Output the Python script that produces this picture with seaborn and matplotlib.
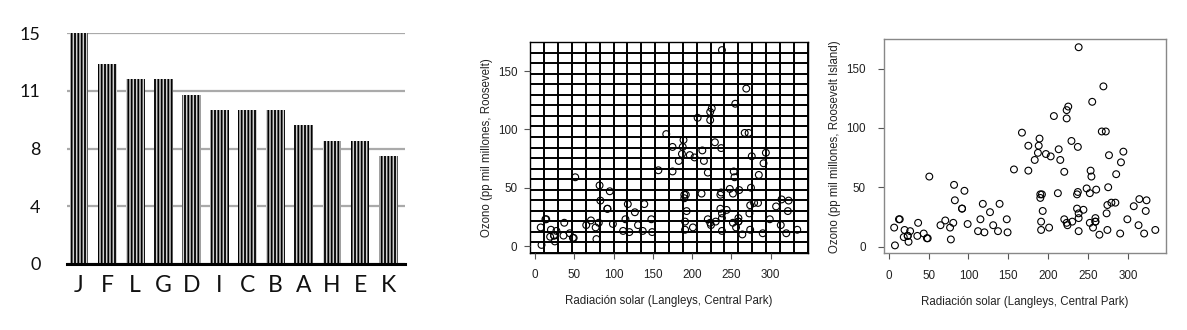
import numpy as np
import pandas as pd
import matplotlib
matplotlib.use("Agg")
import matplotlib.pyplot as plt
from matplotlib.ticker import FuncFormatter, FixedLocator
import seaborn as sns

# Bar panel data
categories = ["J", "F", "L", "G", "D", "I", "C", "B", "A", "H", "E", "K"]
bar_values = [15, 13, 12, 12, 11, 10, 10, 10, 9, 8, 8, 7]

# Solar radiation (Langleys, Central Park) and ozone (ppb, Roosevelt Island)
solar = [190, 118, 149, 313, 299, 99, 19, 256, 290, 274, 65, 334, 307, 78, 322,
         44, 8, 320, 25, 92, 13, 252, 223, 279, 127, 291, 323, 148, 191, 284,
         37, 120, 137, 269, 248, 236, 175, 314, 276, 267, 272, 175, 264, 48,
         260, 274, 285, 187, 220, 7, 294, 223, 81, 82, 213, 275, 253, 254, 83,
         24, 77, 255, 229, 207, 192, 273, 157, 71, 51, 115, 244, 190, 259, 36,
         212, 238, 215, 203, 225, 237, 188, 167, 197, 183, 189, 95, 92, 252,
         220, 230, 259, 236, 259, 238, 24, 112, 237, 224, 27, 238, 201, 238,
         14, 139, 49, 20, 193, 191, 131, 223]
ozone = [41, 36, 12, 18, 23, 19, 8, 16, 11, 14, 18, 14, 34, 6, 30,
         11, 1, 11, 4, 32, 23, 45, 115, 37, 29, 71, 39, 23, 21, 37,
         20, 12, 13, 135, 49, 32, 64, 40, 77, 97, 97, 85, 10, 7,
         48, 35, 61, 79, 63, 16, 80, 108, 20, 52, 82, 50, 64, 59, 39,
         9, 16, 122, 89, 110, 44, 28, 65, 22, 59, 23, 31, 44, 21, 9,
         45, 168, 73, 76, 118, 84, 85, 96, 78, 73, 91, 47, 32, 20,
         23, 21, 24, 44, 21, 28, 9, 13, 46, 18, 13, 24, 16, 13,
         23, 36, 7, 14, 30, 14, 18, 20]

x_ticks = [0, 50, 100, 150, 200, 250, 300]
y_ticks = [0, 50, 100, 150]
x_title = "Radiación solar (Langleys, Central Park)"
y_title_mid = "Ozono (pp mil millones, Roosevelt)"
y_title_right = "Ozono (pp mil millones, Roosevelt Island)"

sns.set_theme(style="white")
plt.rcParams["font.family"] = ["Liberation Sans", "DejaVu Sans"]
plt.rcParams["hatch.linewidth"] = 1.3

fig = plt.figure(figsize=(11.87, 3.30), dpi=100)

# ---------------- Bar panel ----------------
axb = fig.add_axes([0.0564, 0.2, 0.2848, 0.7])
bars_df = pd.DataFrame({"cat": categories, "val": bar_values})
sns.barplot(data=bars_df, x="cat", y="val", ax=axb, color="#d2d2d2",
            width=0.67, edgecolor="black", linewidth=0, hatch="|||||",
            saturation=1, zorder=3)
axb.set_xlim(-0.43, 11.6)
axb.set_ylim(0, 15)
axb.yaxis.set_major_locator(FixedLocator(np.linspace(0, 15, 5)))
axb.yaxis.set_major_formatter(FuncFormatter(lambda v, p: f"{v:.0f}"))
axb.grid(axis="y", color="#aaaaaa", linewidth=1.6)
axb.grid(axis="x", visible=False)
axb.set_axisbelow(True)
for s in ["left", "right", "top"]:
    axb.spines[s].set_visible(False)
axb.spines["bottom"].set_color("black")
axb.spines["bottom"].set_linewidth(2.2)
axb.spines["bottom"].set_zorder(5)
axb.tick_params(axis="y", length=0, pad=19, labelsize=13, labelcolor="#111111")
axb.tick_params(axis="x", length=0, pad=8, labelsize=16.5, labelcolor="#111111")
for lab in axb.get_xticklabels() + axb.get_yticklabels():
    lab.set_fontfamily(["Lato", "DejaVu Sans"])
axb.set_xlabel("")
axb.set_ylabel("")


def scatter_panel(ax, spine_color, grid):
    sns.scatterplot(x=solar, y=ozone, ax=ax, marker="o", s=24,
                    facecolor="none", edgecolor="black", linewidth=0.8)
    ax.set_xlim(-6.08, 347.08)
    ax.set_ylim(-5.68, 174.68)
    ax.set_xticks(x_ticks)
    ax.set_yticks(y_ticks)
    ax.set_xticklabels([str(t) for t in x_ticks])
    ax.set_yticklabels([str(t) for t in y_ticks])
    ax.tick_params(axis="both", direction="out", length=4, width=0.8,
                   color="#555555", labelsize=8.4, labelcolor="#222222")
    ax.tick_params(axis="x", pad=8, bottom=True)
    ax.tick_params(axis="y", left=True)
    for s in ax.spines.values():
        s.set_color(spine_color)
        s.set_linewidth(1.0)
        s.set_visible(True)
    ax.grid(False)
    if grid:
        ax.xaxis.set_minor_locator(FixedLocator(np.linspace(-6.08, 347.08, 21)))
        ax.yaxis.set_minor_locator(FixedLocator(np.linspace(-5.68, 174.68, 21)))
        ax.tick_params(which="minor", length=0)
        ax.grid(which="minor", color="black", linewidth=1.4)
        ax.set_axisbelow(False)
    ax.set_xlabel(x_title, fontsize=8.3, color="#222222")
    ax.xaxis.set_label_coords(0.5, -0.2)
    ax.xaxis.label.set_va("top")


# ---------------- Scatter with grid ----------------
axm = fig.add_axes([0.4469, 0.2342, 0.2334, 0.6376])
scatter_panel(axm, "black", True)
axm.tick_params(axis="y", pad=5.5)
axm.set_ylabel(y_title_mid, fontsize=8.3, color="#222222")
axm.yaxis.set_label_coords(-0.135, 0.5)

# ---------------- Plain scatter ----------------
axr = fig.add_axes([0.7445, 0.2324, 0.2376, 0.6485])
scatter_panel(axr, "#888888", False)
axr.tick_params(axis="y", pad=9)
axr.set_ylabel(y_title_right, fontsize=8.3, color="#222222")
axr.yaxis.set_label_coords(-0.152, 0.5)

fig.savefig("out.png", dpi=100)
